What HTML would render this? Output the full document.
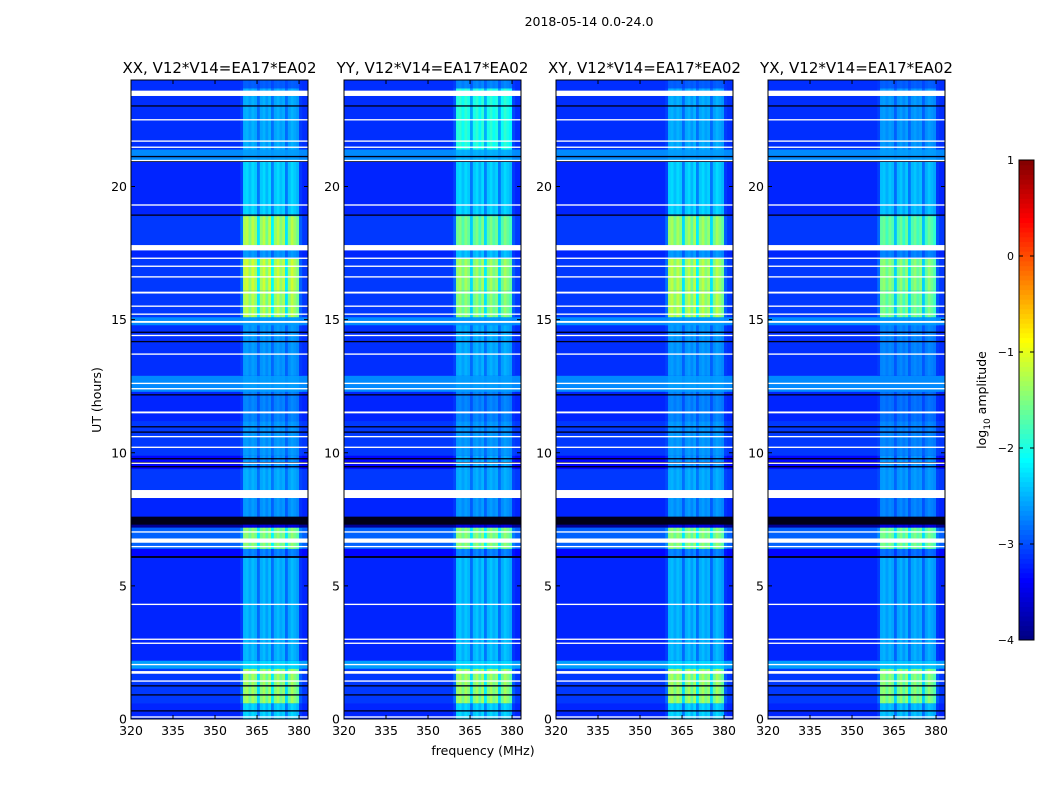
<!DOCTYPE html>
<html><head><meta charset="utf-8"><style>
body{margin:0;background:#fff;width:1050px;height:800px;overflow:hidden}
svg text{font-family:"DejaVu Sans","Liberation Sans",sans-serif;fill:#000}
</style></head><body>
<svg id="fig" width="1050" height="800" xmlns="http://www.w3.org/2000/svg">
<text x="589" y="26" font-size="12.5" text-anchor="middle">2018-05-14 0.0-24.0</text>
<text x="483" y="755" font-size="12.5" text-anchor="middle">frequency (MHz)</text>
<text transform="translate(101,400) rotate(-90)" font-size="12.5" text-anchor="middle">UT (hours)</text>
<text transform="translate(986,400) rotate(-90)" font-size="12.5" text-anchor="middle">log<tspan font-size="9" dy="4">10</tspan><tspan dy="-4"> amplitude</tspan></text>
</svg>
<script>
// ---- data ----
const panelTitles = ["XX, V12*V14=EA17*EA02","YY, V12*V14=EA17*EA02","XY, V12*V14=EA17*EA02","YX, V12*V14=EA17*EA02"];
const segStart = [0,0.6,1.9,2.2,6.1,6.4,7.2,7.6,8.6,9.4,9.9,11.2,12.3,12.9,14.8,15.1,16.1,17.3,17.8,18.9,21,21.4,23.7];
const segEnd   = [0.6,1.9,2.2,6.1,6.4,7.2,7.6,8.6,9.4,9.9,11.2,12.3,12.9,14.8,15.1,16.1,17.3,17.8,18.9,21,21.4,23.7,24];
const segBg    = [-3.2,-3.1,-2.6,-3.2,-3.35,-2.9,-3.9,-3.2,-3.1,-3.35,-3.1,-3.2,-2.7,-3.15,-2.7,-3.1,-3.1,-3.2,-3.1,-3.2,-2.7,-3.15,-3.15];
const bandXX   = [-2.3,-1.3,-2.3,-2.45,-2.7,-1.4,-3.5,-2.6,-2.5,-2.6,-2.6,-2.7,-2.6,-2.6,-2.6,-1.2,-1.1,-2.6,-1.2,-2.3,-2.6,-2.5,-2.9];
const bandYY   = [-2.3,-1.3,-2.3,-2.4,-2.7,-1.4,-3.5,-2.6,-2.5,-2.5,-2.6,-2.7,-2.6,-2.5,-2.6,-1.4,-1.3,-2.4,-1.5,-2.3,-2.5,-1.9,-2.7];
const bandXY   = [-2.3,-1.3,-2.3,-2.45,-2.7,-1.4,-3.5,-2.6,-2.5,-2.6,-2.6,-2.7,-2.6,-2.6,-2.6,-1.2,-1.2,-2.6,-1.3,-2.3,-2.6,-2.5,-2.9];
const bandYX   = [-2.4,-1.4,-2.4,-2.5,-2.8,-1.5,-3.5,-2.7,-2.6,-2.6,-2.7,-2.8,-2.7,-2.7,-2.6,-1.5,-1.4,-2.7,-1.6,-2.4,-2.6,-2.6,-2.9];
const panelBand = [bandXX,bandYY,bandXY,bandYX];
const chanStart = 320; // MHz, 1 MHz channels
const chanProfile = [0,0,0,0,0,0,0,0,0,0, 0,0,0,0,0,0,0,0,0,0, 0,0,0,0,0,0,0,0,0,0,
  0,0,0,0,0,0,0,0,0,0.15, 0.95,1.0,0.85,1.0,0.9,0.45,0.9,1.0,0.8,1.0, 0.5,0.9,1.0,0.85,0.95,0.45,0.85,1.0,0.9,0.8, 0.1,0,0];
const flagStart = [0.05,1.4,1.7,2.02,2.82,2.97,4.28,6.45,6.62,7.0,8.3,9.58,10.18,10.58,11.48,12.38,12.58,13.68,14.38,14.88,15.18,15.48,15.98,16.58,16.98,17.28,17.6,19.28,20.95,21.45,21.68,22.48,23.4];
const flagEnd   = [0.1,1.45,1.8,2.07,2.87,3.02,4.33,6.5,6.78,7.05,8.6,9.63,10.23,10.63,11.55,12.43,12.63,13.73,14.43,14.95,15.23,15.53,16.05,16.63,17.03,17.33,17.8,19.33,21.0,21.5,21.73,22.53,23.6];
const blackStart = [0.28,0.88,1.22,6.05,7.3,9.45,9.6,9.75,10.75,10.95,12.15,14.15,14.5,18.9,20.92,21.1,23.0];
const blackEnd   = [0.33,0.93,1.27,6.12,7.6,9.5,9.65,9.8,10.8,11.0,12.2,14.2,14.55,18.95,20.97,21.15,23.05];
const xTicks = [320,335,350,365,380];
const yTicks = [0,5,10,15,20];
const cbTicks = [1,0,-1,-2,-3,-4];
const cbLabels = ["1","0","\u22121","\u22122","\u22123","\u22124"];

// ---- layout ----
const panelX = [131,344,556,768], panelW = 177, plotTop = 80, plotBot = 719;
const fMin = 320, fMax = 383.2, vMin = -4, vMax = 1;
const NS = "http://www.w3.org/2000/svg";
const svg = document.getElementById('fig');
function el(t, a, p){const e=document.createElementNS(NS,t);for(const k in a)e.setAttribute(k,a[k]);(p||svg).appendChild(e);return e;}
function jet(v){
  let t=(v-vMin)/(vMax-vMin); t=Math.max(0,Math.min(1,t));
  const f=x=>Math.round(255*Math.max(0,Math.min(1,x)));
  return `rgb(${f(1.5-Math.abs(4*t-3))},${f(1.5-Math.abs(4*t-2))},${f(1.5-Math.abs(4*t-1))})`;
}
function yScale(h){return plotBot-(h/24)*(plotBot-plotTop);}

panelTitles.forEach((title,p)=>{
  const x0=panelX[p];
  const xScale=f=>x0+(f-fMin)/(fMax-fMin)*panelW;
  const g=el('g',{});
  
  
  const band=panelBand[p];
  for(let s=0;s<segStart.length;s++){
    const y1=yScale(segEnd[s]), y2=yScale(segStart[s]);
    const r=el('rect',{x:x0,y:y1,width:panelW,height:y2-y1+0.3,fill:jet(segBg[s])},g);
    
    
    for(let c=0;c<chanProfile.length;c++){
      if(chanProfile[c]<=0) continue;
      const v=segBg[s]+(band[s]-segBg[s])*chanProfile[c];
      const xa=xScale(chanStart+c), xb=Math.min(xScale(chanStart+c+1),x0+panelW);
      const cell=el('rect',{x:xa,y:y1,width:xb-xa+0.3,height:y2-y1+0.3,fill:jet(v)},g);
      
      
    }
  }
  for(let i=0;i<blackStart.length;i++){
    const y1=yScale(blackEnd[i]),y2=yScale(blackStart[i]);
    const b=el('rect',{x:x0,y:y1,width:panelW,height:Math.max(1,y2-y1),fill:'#000018'},g);
    
    
  }
  for(let i=0;i<flagStart.length;i++){
    const y1=yScale(flagEnd[i]),y2=yScale(flagStart[i]);
    const w=el('rect',{x:x0,y:y1,width:panelW,height:Math.max(1.2,y2-y1),fill:'#fff'},g);
    
    
  }
  const fr=el('rect',{x:x0,y:plotTop,width:panelW,height:plotBot-plotTop,fill:'none',stroke:'#000','stroke-width':1},g);
  
  
  const tt=el('text',{x:x0+panelW/2,y:73,'font-size':15,'text-anchor':'middle'},g);
  tt.textContent=title;
  
  
  xTicks.forEach(f=>{
    const x=xScale(f);
    el('line',{x1:x,x2:x,y1:plotBot,y2:plotBot-4,stroke:'#000'},g);
    el('line',{x1:x,x2:x,y1:plotTop,y2:plotTop+4,stroke:'#000'},g);
    const t=el('text',{x:x,y:plotBot+16,'font-size':12.5,'text-anchor':'middle'},g);
    t.textContent=f;
    
    
  });
  yTicks.forEach(h=>{
    const y=yScale(h);
    el('line',{x1:x0,x2:x0+4,y1:y,y2:y,stroke:'#000'},g);
    el('line',{x1:x0+panelW,x2:x0+panelW-4,y1:y,y2:y,stroke:'#000'},g);
    const t=el('text',{x:x0-4,y:y+4.5,'font-size':12.5,'text-anchor':'end'},g);
    t.textContent=h;
    
    
  });
});

// colorbar
const cbX=1019,cbW=15,cbTop=160,cbBot=640;
const cb=el('g',{});


const N=100;
for(let i=0;i<N;i++){
  const v=vMin+(i+0.5)/N*(vMax-vMin);
  const y=cbBot-(i+1)/N*(cbBot-cbTop);
  el('rect',{x:cbX,y:y,width:cbW,height:(cbBot-cbTop)/N+0.5,fill:jet(v)},cb);
}
el('rect',{x:cbX,y:cbTop,width:cbW,height:cbBot-cbTop,fill:'none',stroke:'#000'},cb);
cbTicks.forEach((v,i)=>{
  const y=cbBot-(v-vMin)/(vMax-vMin)*(cbBot-cbTop);
  el('line',{x1:cbX,x2:cbX+4,y1:y,y2:y,stroke:'#000'},cb);
  el('line',{x1:cbX+cbW,x2:cbX+cbW-4,y1:y,y2:y,stroke:'#000'},cb);
  const t=el('text',{x:cbX-5,y:y+4,'font-size':11,'text-anchor':'end'},cb);
  t.textContent=cbLabels[i];
  
  
});
</script>
</body></html>
